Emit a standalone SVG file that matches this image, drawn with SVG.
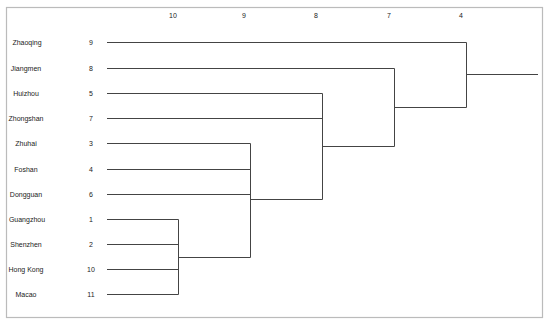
<svg xmlns="http://www.w3.org/2000/svg" width="550" height="330" viewBox="0 0 550 330">
<style>
.t{font-family:"Liberation Sans",Arial,sans-serif;font-size:7px;fill:#222;text-anchor:middle}
.c{fill:none;stroke:#444;stroke-width:1}
</style>
<rect x="0" y="0" width="550" height="330" fill="#fff"/>
<rect x="6.5" y="7.5" width="536" height="310" fill="none" stroke="#bbb" stroke-width="1.2"/>
<g id="axis">
<text class="t" x="173" y="18">10</text>
<text class="t" x="244" y="18">9</text>
<text class="t" x="316" y="18">8</text>
<text class="t" x="389" y="18">7</text>
<text class="t" x="461" y="18">4</text>
</g>
<g id="n9"><text class="t" x="27" y="45">Zhaoqing</text><text class="t" x="91" y="45">9</text></g>
<g id="n8"><text class="t" x="26" y="70.5">Jiangmen</text><text class="t" x="91" y="70.5">8</text></g>
<g id="n5"><text class="t" x="26" y="95.5">Huizhou</text><text class="t" x="91" y="95.5">5</text></g>
<g id="n7"><text class="t" x="26" y="120.5">Zhongshan</text><text class="t" x="91" y="120.5">7</text></g>
<g id="n3"><text class="t" x="26" y="146">Zhuhai</text><text class="t" x="91" y="146">3</text></g>
<g id="n4"><text class="t" x="26" y="171.5">Foshan</text><text class="t" x="91" y="171.5">4</text></g>
<g id="n6"><text class="t" x="26" y="196.5">Dongguan</text><text class="t" x="91" y="196.5">6</text></g>
<g id="n1"><text class="t" x="27" y="221.5">Guangzhou</text><text class="t" x="91" y="221.5">1</text></g>
<g id="n2"><text class="t" x="26" y="246.5">Shenzhen</text><text class="t" x="91" y="246.5">2</text></g>
<g id="n10"><text class="t" x="26" y="271.5">Hong Kong</text><text class="t" x="91" y="271.5">10</text></g>
<g id="n11"><text class="t" x="26" y="296.5">Macao</text><text class="t" x="91" y="296.5">11</text></g>
<g id="connectors">
<path class="c" d="M107 219.5H178.5M107 244.5H178.5M107 269.5H178.5M107 294.5H178.5M178.5 219.5V294.5M178.5 257.5H250.5"/>
<path class="c" d="M107 143.5H250.5M107 169.5H250.5M107 194.5H250.5M250.5 143.5V257.5M250.5 199.5H322.5"/>
<path class="c" d="M107 93.5H322.5M107 118.5H322.5M322.5 93.5V199.5M322.5 146.5H394.5"/>
<path class="c" d="M107 68.5H394.5M394.5 68.5V146.5M394.5 107.5H466.5"/>
<path class="c" d="M107 42.5H466.5M466.5 42.5V107.5M466.5 74.5H538"/>
</g>
</svg>
